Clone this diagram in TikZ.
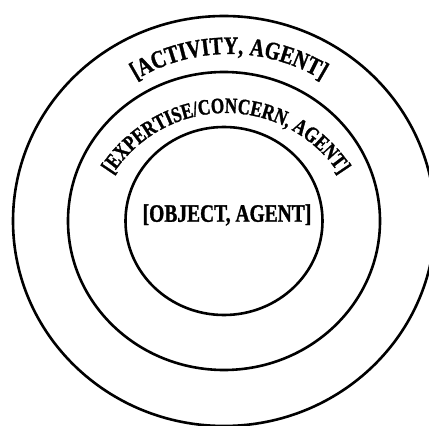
\documentclass[tikz,border=0pt]{standalone}
\usepackage{fontspec}
\newfontfamily\lbl{Liberation Serif Bold}[FakeStretch=0.78, FakeBold=1.2]
\newfontfamily\lblA{Liberation Serif Bold}[FakeStretch=0.8, FakeBold=1.2, LetterSpace=4]
\usetikzlibrary{decorations.text}
\begin{document}
\begin{tikzpicture}[x=1pt,y=1pt,
  ring/.style={line width=2.6pt},
  lab/.style={font=\lbl\fontsize{25}{25}\selectfont}]
\useasboundingbox (0,0) rectangle (429,426);
\coordinate (c) at (224,205);
\draw[ring] (c) ellipse[x radius=211, y radius=205];
\draw[ring] (c) ellipse[x radius=156, y radius=149];
\draw[ring] (c) ellipse[x radius=98.5, y radius=94];
\node[lab] (obj) at (227,211) {[OBJECT, AGENT]};
\coordinate (ca) at (229,192);
\path[decorate, decoration={text along path, text align=center,
  text={|\lblA\fontsize{25}{25}\selectfont|{[}ACTIVITY{,} AGENT{]}}}]
  (ca) ++(160:180) arc[start angle=160, end angle=20, radius=180];
\coordinate (ce) at (226,178);
\path[decorate, decoration={text along path, text align=center,
  text={|\lbl\fontsize{22}{22}\selectfont|{[}EXPERTISE/CONCERN{,} AGENT{]}}}]
  (ce) ++(170:135) arc[start angle=170, end angle=10, radius=135];
\end{tikzpicture}
\end{document}
